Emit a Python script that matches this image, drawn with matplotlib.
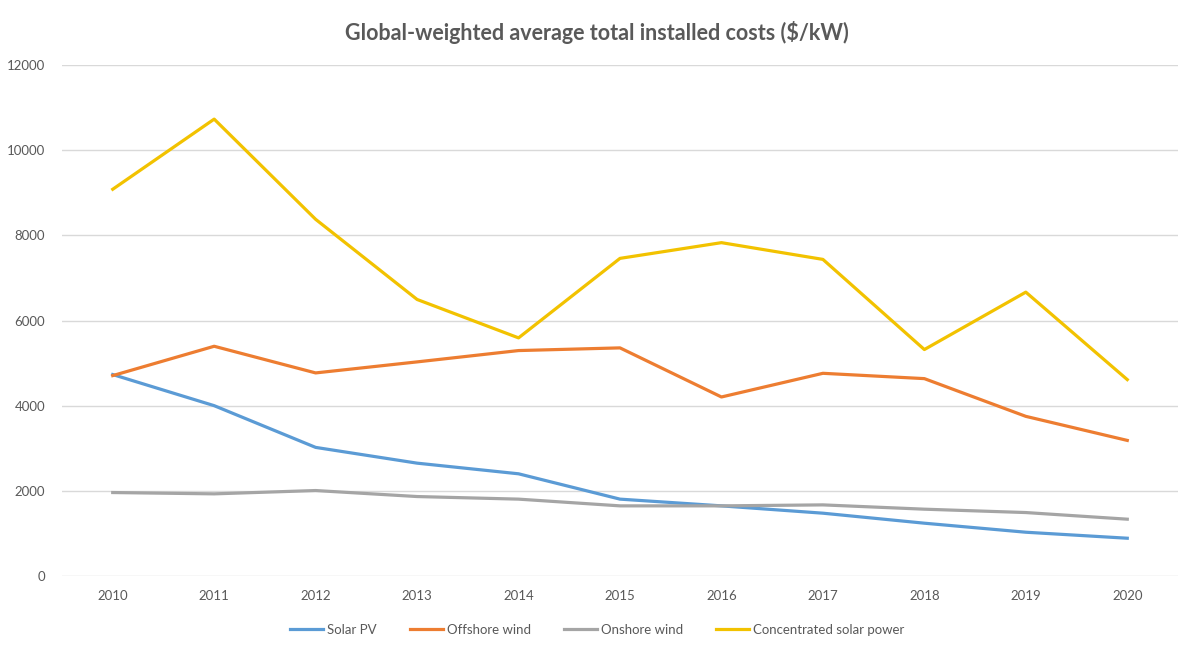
import matplotlib.pyplot as plt
import numpy as np

years = ['2010', '2011', '2012', '2013', '2014', '2015', '2016', '2017', '2018', '2019', '2020']
solar_pv = [4731, 4000, 3020, 2650, 2400, 1805, 1647, 1475, 1240, 1028, 887]
offshore_wind = [4706, 5395, 4769, 5028, 5294, 5357, 4204, 4760, 4635, 3749, 3184]
onshore_wind = [1960, 1929, 2007, 1866, 1805, 1647, 1647, 1670, 1569, 1490, 1334]
csp = [9082, 10729, 8376, 6494, 5592, 7459, 7828, 7435, 5318, 6666, 4612]

plt.rcParams['font.family'] = ['Lato', 'DejaVu Sans']

fig = plt.figure(figsize=(11.94, 6.54), dpi=100)
ax = fig.add_axes([62/1194, 1 - 576/654, (1178 - 62)/1194, (576 - 65)/654])

x = np.arange(len(years))
ax.plot(x, solar_pv, color='#5B9BD5', lw=2.3, label='Solar PV')
ax.plot(x, offshore_wind, color='#ED7D31', lw=2.3, label='Offshore wind')
ax.plot(x, onshore_wind, color='#A5A5A5', lw=2.3, label='Onshore wind')
ax.plot(x, csp, color='#F2C200', lw=2.3, label='Concentrated solar power')

ax.set_xlim(-0.5, len(years) - 0.5)
ax.set_ylim(0, 12000)
ax.set_yticks(range(0, 12001, 2000))
ax.set_xticks(x)
ax.set_xticklabels(years)
ax.grid(axis='y', color='#D9D9D9', lw=1)
ax.set_axisbelow(True)
for s in ax.spines.values():
    s.set_visible(False)
ax.tick_params(length=0, labelsize=9.5, colors='#595959', pad=10)
ax.tick_params(axis='y', pad=12)

fig.text(0.5, 1 - 32/654, 'Global-weighted average total installed costs ($/kW)',
         ha='center', va='center', fontsize=15.5, fontweight='bold', color='#595959')

fig.legend(loc='center', bbox_to_anchor=(0.5, 1 - 630/654), ncol=4, frameon=False,
           fontsize=9.5, labelcolor='#595959', handlelength=2.5, columnspacing=2.5,
           handletextpad=0.3)

fig.savefig('out.png', dpi=100)
